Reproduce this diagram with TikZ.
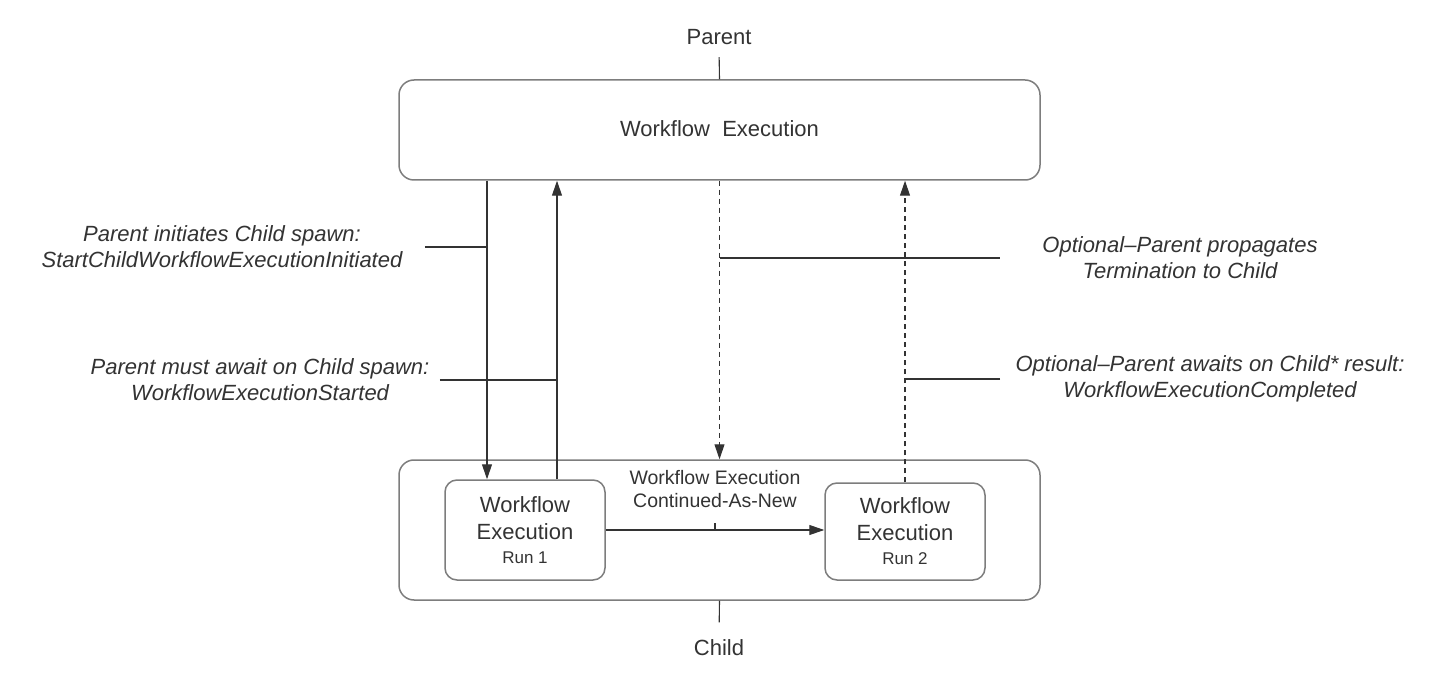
\documentclass[tikz,border=0pt]{standalone}
\usepackage{fontspec}
\setmainfont{Liberation Sans}
\usetikzlibrary{arrows.meta,positioning}
\definecolor{wfline}{RGB}{51,51,51}
\definecolor{wfborder}{RGB}{125,125,125}
\definecolor{wftext}{RGB}{51,51,51}
\tikzset{
  wfbox/.style={draw=wfborder, line width=1.5pt, rounded corners=15pt, fill=white, align=center, text=wftext, font=\fontsize{22}{27}\selectfont},
  runbox/.style={wfbox, rounded corners=12pt, minimum width=160pt},
  flow/.style={-{Triangle[length=15pt,width=10pt]}, line width=1.1pt, draw=wfline},
  optflow/.style={flow, dash pattern=on 5pt off 4pt},
  tie/.style={line width=1.1pt, draw=wfline},
  note/.style={font=\fontsize{22}{26}\selectfont\itshape, text=wftext, align=center},
  plain/.style={font=\fontsize{22}{26}\selectfont, text=wftext, align=center}
}

\begin{document}
\begin{tikzpicture}[x=1pt,y=-1pt]
  \fill[white] (0,0) rectangle (1440,700);
  \useasboundingbox (0,0) rectangle (1440,700);

  %% Parent side
  \node[plain] (parentlbl) at (719,37) {Parent};
  \node[wfbox, minimum width=641pt, minimum height=100pt, text depth=3pt] (parent) at (719.5,130) {Workflow\ \ Execution};
  \draw[tie, shorten <=9pt] (parentlbl.south) -- (parent.north);

  %% Child side
  \node[wfbox, minimum width=641pt, minimum height=140pt] (childbox) at (719.5,530) {};
  \node[plain] (childlbl) at (719,648) {Child};
  \draw[tie, shorten >=14pt] (childbox.south) -- (childlbl.north);

  %% Runs inside child
  \node[runbox, minimum height=100pt] (run1) at (525,530) {Workflow\\Execution\\[-3pt]{\fontsize{17}{20}\selectfont Run 1}};
  \node[runbox, minimum height=97pt] (run2) at (905,531.5) {Workflow\\Execution\\[-3pt]{\fontsize{17}{20}\selectfont Run 2}};
  \draw[flow] (run1.east) -- (run1.east -| run2.west);
  \node[plain, font=\fontsize{19.5}{23}\selectfont] (canlbl) at (715,489) {Workflow Execution\\Continued-As-New};
  \coordinate (cantick) at (715,523);
  \draw[tie] (cantick) -- (cantick |- run1.east);

  %% Parent <-> child events
  \coordinate (spawn) at ([xshift=-38pt]run1.north);
  \coordinate (started) at ([xshift=32pt]run1.north);
  \draw[flow] (parent.south -| spawn) -- (spawn);
  \draw[flow] (started) -- (parent.south -| started);
  \draw[optflow] (parent.south) -- (childbox.north);
  \draw[optflow] (run2.north) -- (parent.south -| run2.north);

  %% Labels
  \node[note] (initlbl) at (222,247) {Parent initiates Child spawn:\\StartChildWorkflowExecutionInitiated};
  \draw[tie] ([xshift=19pt]initlbl.east) -- (initlbl.east -| spawn);

  \node[note] (startlbl) at (260,380) {Parent must await on Child spawn:\\WorkflowExecutionStarted};
  \draw[tie] ([xshift=7pt]startlbl.east) -- (startlbl.east -| started);

  \node[note] (termlbl) at (1180,258) {Optional–Parent propagates\\Termination to Child};
  \draw[tie] ([xshift=-39pt]termlbl.west) -- (termlbl.west -| parent.south);

  \node[note] (donelbl) at (1210,379) {Optional–Parent awaits on Child* result:\\WorkflowExecutionCompleted};
  \draw[tie] ([xshift=-12pt]donelbl.west) -- (donelbl.west -| run2.north);
\end{tikzpicture}
\end{document}
